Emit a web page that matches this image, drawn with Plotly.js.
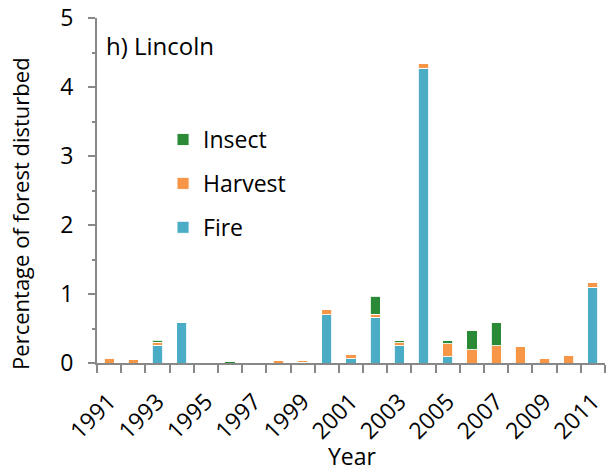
<!DOCTYPE html>
<html>
<head>
<meta charset="utf-8">
<script src="https://cdn.plot.ly/plotly-3.0.1.min.js"></script>
<style>
html,body{margin:0;padding:0;background:#fff;}
#chart{width:609px;height:476px;}
</style>
</head>
<body>
<div id="chart"></div>
<script>
const years = ["1991","1992","1993","1994","1995","1996","1997","1998","1999","2000","2001","2002","2003","2004","2005","2006","2007","2008","2009","2010","2011"];
const fire    = [0,   0,    0.26, 0.58, 0, 0,    0,    0,    0.01, 0.70, 0.06, 0.66, 0.25, 4.27, 0.09, 0,    0,    0,    0,    0,    1.10];
const harvest = [0.07,0.05, 0.04, 0,    0, 0,    0.01, 0.03, 0.02, 0.07, 0.07, 0.05, 0.04, 0.07, 0.19, 0.19, 0.25, 0.24, 0.06, 0.11, 0.06];
const insect  = [0,   0,    0.03, 0,    0, 0.02, 0,    0,    0,    0,    0,    0.26, 0.03, 0,    0.04, 0.28, 0.33, 0,    0,    0,    0];
const tickText = years.map((y, i) => (i % 2 === 0 ? y : ""));
const panelLabel = "h) Lincoln";
const xTitle = "Year";
const yTitle = "Percentage of forest disturbed";

const FONT = "Open Sans, sans-serif";
const FS = 23;
const outline = {color: "rgba(255,255,255,0.85)", width: 1};

const traces = [
  {type: "bar", name: "Fire", x: years, y: fire, legendgroup: "f", legendrank: 3,
   marker: {color: "#4bacc6", line: outline}},
  {type: "bar", name: "Harvest", x: years, y: harvest, legendgroup: "h", legendrank: 2,
   marker: {color: "#f79646", line: outline}},
  {type: "bar", name: "Insect", x: years, y: insect, legendgroup: "i", legendrank: 1,
   marker: {color: "#2a8a36", line: outline}}
];

const layout = {
  width: 609, height: 476,
  margin: {l: 97, r: 4, t: 18, b: 113},
  paper_bgcolor: "#fff", plot_bgcolor: "#fff",
  barmode: "stack", bargap: 0.58,
  font: {family: FONT, size: FS, color: "#000"},
  showlegend: true,
  legend: {x: 0.13, y: 0.71, xanchor: "left", yanchor: "top",
           traceorder: "grouped", tracegroupgap: 11,
           font: {family: FONT, size: FS, color: "#000"}, bgcolor: "rgba(0,0,0,0)"},
  xaxis: {
    type: "category", tickson: "boundaries",
    tickvals: years, ticktext: tickText, tickangle: -45,
    ticks: "outside", ticklen: 8, tickwidth: 2, tickcolor: "#888",
    ticklabelstandoff: 14,
    showline: true, linecolor: "#888", linewidth: 2,
    showgrid: false, zeroline: false,
    tickfont: {family: FONT, size: FS}
  },
  yaxis: {
    range: [0, 5], dtick: 1, tick0: 0,
    ticks: "outside", ticklen: 7, tickwidth: 2, tickcolor: "#888",
    ticklabelstandoff: 10,
    minor: {dtick: 0.5, ticks: "outside", ticklen: 3, tickwidth: 2, tickcolor: "#888", showgrid: false},
    showline: true, linecolor: "#888", linewidth: 2,
    showgrid: false, zeroline: false,
    tickfont: {family: FONT, size: FS}
  },
  annotations: [
    {text: panelLabel, xref: "paper", yref: "paper", x: 0.014, y: 0.92,
     xanchor: "left", yanchor: "middle", showarrow: false,
     font: {family: FONT, size: 24, color: "#000"}},
    {text: xTitle, xref: "paper", yref: "paper", x: 0.502, y: -0.27,
     xanchor: "center", yanchor: "middle", showarrow: false,
     font: {family: FONT, size: FS, color: "#000"}},
    {text: yTitle, xref: "paper", yref: "paper", x: -0.1516, y: 0.435,
     xanchor: "center", yanchor: "middle", showarrow: false, textangle: -90,
     font: {family: FONT, size: 22, color: "#000"}}
  ]
};

Plotly.newPlot("chart", traces, layout, {displayModeBar: false, staticPlot: true});
</script>
</body>
</html>
